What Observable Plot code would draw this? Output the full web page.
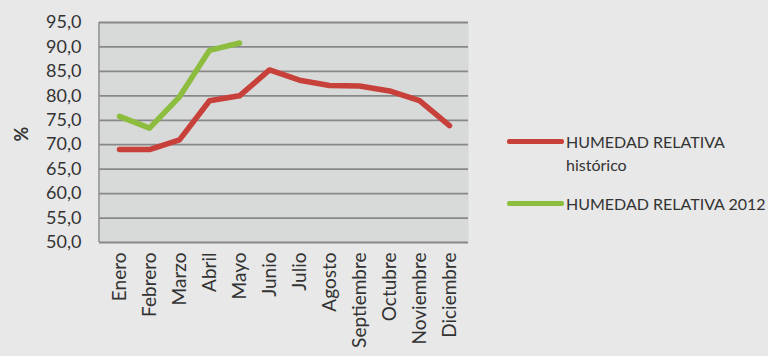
<!DOCTYPE html>
<html>
<head>
<meta charset="utf-8">
<script src="https://cdn.jsdelivr.net/npm/d3@7"></script>
<script src="https://cdn.jsdelivr.net/npm/@observablehq/plot@0.6"></script>
<style>
  html, body { margin: 0; padding: 0; background: #e8e8e8; }
  #wrap { position: relative; width: 768px; height: 356px; overflow: hidden; background: #e8e8e8; }
  .leg { position: absolute; font-family: Lato, sans-serif; font-size: 16px; color: #333; line-height: 23px; white-space: nowrap; }
  .bar { position: absolute; height: 5px; width: 57px; border-radius: 2px; }
</style>
</head>
<body>
<div id="wrap"></div>
<script>
const months = ["Enero","Febrero","Marzo","Abril","Mayo","Junio","Julio","Agosto","Septiembre","Octubre","Noviembre","Diciembre"];
const historico = [69, 69, 71, 79, 80, 85.3, 83.2, 82.1, 82, 81, 79, 73.9];
const humedad2012 = [75.8, 73.4, 79.8, 89.3, 90.8];
const yTicks = [50, 55, 60, 65, 70, 75, 80, 85, 90, 95];
const seriesNames = ["HUMEDAD RELATIVA histórico", "HUMEDAD RELATIVA 2012"];
const seriesColors = ["#c8403a", "#8dbd3e"];

const histData = months.map((m, i) => ({month: m, value: historico[i]}));
const data2012 = humedad2012.map((v, i) => ({month: months[i], value: v}));

const leftLine = (index, scales, values, dims) => {
  const g = d3.create("svg:line")
    .attr("x1", dims.marginLeft).attr("x2", dims.marginLeft)
    .attr("y1", dims.marginTop).attr("y2", dims.height - dims.marginBottom)
    .attr("stroke", "#8c8c8c").attr("stroke-width", 1.5);
  return g.node();
};

const chart = Plot.plot({
  width: 768,
  height: 356,
  marginLeft: 99,
  marginRight: 300,
  marginTop: 22,
  marginBottom: 114,
  style: {background: "#e8e8e8", fontFamily: "Lato, sans-serif", fontSize: "18px", color: "#333"},
  x: {type: "point", domain: months, padding: 0.5},
  y: {domain: [50, 95]},
  marks: [
    Plot.frame({fill: "#d8d9d9", stroke: null}),
    Plot.ruleY(yTicks, {stroke: "#888888", strokeWidth: 1.8}),
    leftLine,
    Plot.axisY({ticks: yTicks, tickSize: 0, tickPadding: 18, tickFormat: d => d.toFixed(1).replace(".", ","), label: null, fill: "#333", fontSize: 18}),
    Plot.axisX({tickSize: 0, tickPadding: 10, tickRotate: -90, label: null, fill: "#333", fontSize: 19}),
    Plot.text(["%"], {frameAnchor: "left", dx: -77, dy: 9, rotate: -90, fontSize: 18, fontWeight: "bold", fill: "#333"}),
    Plot.line(histData, {x: "month", y: "value", stroke: seriesColors[0], strokeWidth: 5.5, strokeLinejoin: "round", strokeLinecap: "round"}),
    Plot.line(data2012, {x: "month", y: "value", stroke: seriesColors[1], strokeWidth: 5.5, strokeLinejoin: "round", strokeLinecap: "round"})
  ]
});

const wrap = document.getElementById("wrap");
wrap.appendChild(chart);

function addLegend(color, lines, barY, textTop) {
  const b = document.createElement("div");
  b.className = "bar";
  b.style.left = "507px";
  b.style.top = (barY - 2.5) + "px";
  b.style.background = color;
  wrap.appendChild(b);
  const t = document.createElement("div");
  t.className = "leg";
  t.style.left = "566px";
  t.style.top = textTop + "px";
  t.innerHTML = lines.join("<br>");
  wrap.appendChild(t);
}
addLegend(seriesColors[0], ["HUMEDAD RELATIVA", "histórico"], 141.5, 130);
addLegend(seriesColors[1], ["HUMEDAD RELATIVA 2012"], 203, 191.5);
</script>
</body>
</html>
